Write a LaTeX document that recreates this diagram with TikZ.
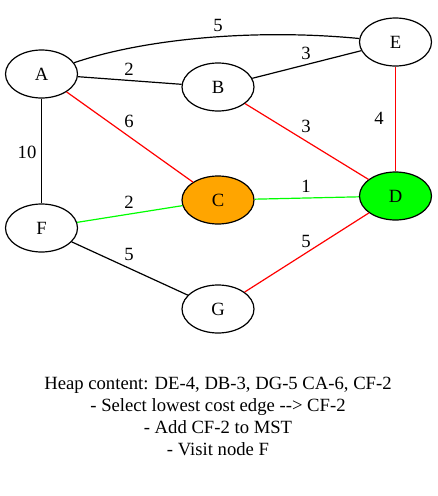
\documentclass[tikz,border=0pt]{standalone}
\usepackage{fontspec}
\setmainfont{Liberation Serif}
\usetikzlibrary{shapes.geometric,positioning}
\definecolor{redi}{RGB}{255,0,0}
\definecolor{greeni}{RGB}{0,255,0}
\definecolor{orangei}{RGB}{255,165,0}
\tikzset{
          vertex/.style={
            ellipse,draw=black,line width=0.9pt,
            minimum width=54pt,minimum height=36pt,inner sep=0pt,
            font=\fontsize{14}{16}\selectfont
          },
          weight/.style={font=\fontsize{14}{16}\selectfont,inner sep=0pt},
          edgei/.style={line width=0.9pt,draw=black},
          rededge/.style={edgei,draw=redi},
          greenedge/.style={edgei,draw=greeni},
          notes/.style={align=center,font=\fontsize{14}{16.5}\selectfont}
        }
\begin{document}
\begin{tikzpicture}[x=0.75pt,y=-0.75pt]
            \useasboundingbox (0,0) rectangle (437,496);
            % vertices
            \node[vertex] (A) at (41.5,74) {A};
            \node[vertex] (B) at (218,87) {B};
            \node[vertex,fill=orangei] (C) at (218,200) {C};
            \node[vertex,fill=greeni] (D) at (395.5,196) {D};
            \node[vertex] (E) at (395.5,42) {E};
            \node[vertex] (F) at (41.5,228) {F};
            \node[vertex] (G) at (218,309) {G};

            % edges
            \draw[edgei] (A) .. controls (140,40) and (250,28) .. (E);
            \draw[edgei] (A) -- (B);
            \draw[edgei] (B) -- (E);
            \draw[edgei] (A) -- (F);
            \draw[edgei] (F) -- (G);
            \draw[rededge] (A) -- (C);
            \draw[rededge] (B) -- (D);
            \draw[rededge] (E) -- (D);
            \draw[rededge] (G) -- (D);
            \draw[greenedge] (F) -- (C);
            \draw[greenedge] (C) -- (D);

            % weights
            \node[weight] (wAE) at (218,25) {5};
            \node[weight] (wAB) at (129,69) {2};
            \node[weight] (wBE) at (306,53) {3};
            \node[weight] (wAC) at (129,121) {6};
            \node[weight] (wBD) at (306,126) {3};
            \node[weight] (wED) at (379,118) {4};
            \node[weight] (wAF) at (27,152) {10};
            \node[weight] (wFC) at (129,202) {2};
            \node[weight] (wCD) at (306,186) {1};
            \node[weight] (wFG) at (129,254) {5};
            \node[weight] (wGD) at (306,241) {5};

            \node[notes] (heap) at (218,416) {Heap content: DE-4, DB-3, DG-5 CA-6, CF-2\\
              - Select lowest cost edge -{}-{}> CF-2\\
              - Add CF-2 to MST\\
              - Visit node F};
          \end{tikzpicture}
\end{document}
